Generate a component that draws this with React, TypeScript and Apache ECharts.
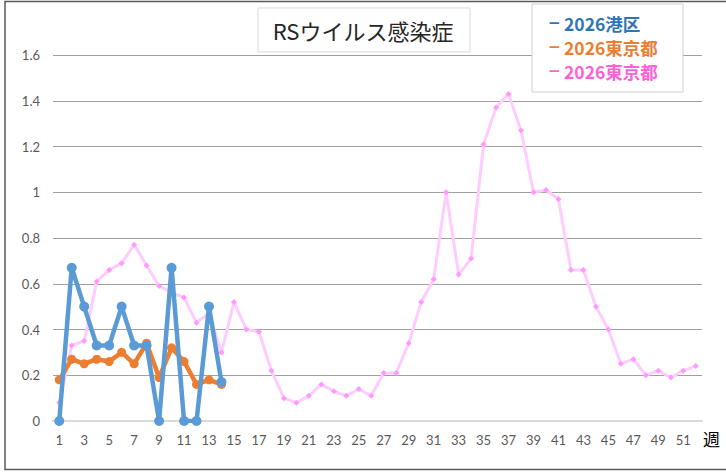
import React, { useEffect, useRef } from "react";
import * as echarts from "echarts";

const weeks: string[] = Array.from({ length: 52 }, (_, i) => String(i + 1));
const minatoValues: number[] = [0, 0.67, 0.5, 0.33, 0.33, 0.5, 0.33, 0.33, 0, 0.67, 0, 0, 0.5, 0.17];
const tokyoValues: number[] = [0.18, 0.27, 0.25, 0.27, 0.26, 0.3, 0.25, 0.34, 0.19, 0.32, 0.26, 0.16, 0.18, 0.16];
const tokyoPrevValues: number[] = [
  0.08, 0.33, 0.35, 0.61, 0.66, 0.69, 0.77, 0.68, 0.59, 0.56,
  0.54, 0.43, 0.47, 0.3, 0.52, 0.4, 0.39, 0.22, 0.1, 0.08,
  0.11, 0.16, 0.13, 0.11, 0.14, 0.11, 0.21, 0.21, 0.34, 0.52,
  0.62, 1.0, 0.64, 0.71, 1.21, 1.37, 1.43, 1.27, 1.0, 1.01,
  0.97, 0.66, 0.66, 0.5, 0.4, 0.25, 0.27, 0.2, 0.22, 0.19,
  0.22, 0.24,
];
const legendLabels: string[] = ["2026港区", "2026東京都", "2026東京都"];
const legendColors: string[] = ["#2e75b6", "#ed7d31", "#ff5fd7"];
const titleText = "RSウイルス感染症";
const axisUnit = "週";

const numFont = "Lato, 'Noto Sans', sans-serif";
const jpFont = "'Noto Sans CJK JP', sans-serif";

export default function App() {
  const ref = useRef<HTMLDivElement>(null);
  useEffect(() => {
    if (!ref.current) return;
    const chart = echarts.init(ref.current, undefined, { renderer: "svg" });
    const legendY = [23, 47, 71];
    const legendGraphics: any[] = [];
    legendLabels.forEach((label, i) => {
      legendGraphics.push({
        type: "text",
        x: 548,
        y: legendY[i],
        style: { text: "−", fontFamily: "'DejaVu Sans', sans-serif", fontSize: 15, fontWeight: "bold", lineHeight: 16, fill: legendColors[i], align: "left", verticalAlign: "middle" },
        z: 11,
      });
      legendGraphics.push({
        type: "text",
        x: 564,
        y: legendY[i],
        style: { text: label, fontFamily: jpFont, fontSize: 17.5, lineHeight: 19, fontWeight: "bold", fill: legendColors[i], align: "left", verticalAlign: "middle" },
        z: 11,
      });
    });
    chart.setOption({
      animation: false,
      backgroundColor: "#ffffff",
      grid: { left: 53, right: 24, top: 55, bottom: 51, containLabel: false },
      xAxis: {
        type: "category",
        data: weeks,
        boundaryGap: true,
        name: axisUnit,
        nameLocation: "end",
        nameGap: 1,
        nameTextStyle: { fontFamily: jpFont, fontSize: 17, color: "#000", verticalAlign: "top", padding: [9, 0, 0, 0] },
        axisTick: { show: false },
        axisLine: { lineStyle: { color: "#d9d9d9", width: 2 } },
        axisLabel: { interval: 1, color: "#595959", fontFamily: numFont, fontSize: 13, margin: 12 },
        splitLine: { show: false },
      },
      yAxis: {
        type: "value",
        min: 0,
        max: 1.6,
        interval: 0.2,
        axisLine: { show: false },
        axisTick: { show: false },
        axisLabel: { color: "#595959", fontFamily: numFont, fontSize: 13, margin: 13 },
        splitLine: { lineStyle: { color: "#a0a0a0", width: 1 } },
      },
      series: [
        {
          name: "2026東京都(前)",
          type: "line",
          data: tokyoPrevValues,
          symbol: "diamond",
          symbolSize: 6,
          showAllSymbol: true,
          lineStyle: { color: "#ffccff", width: 3 },
          itemStyle: { color: "#ff99ff" },
          z: 2,
        },
        {
          name: "2026東京都",
          type: "line",
          data: tokyoValues,
          symbol: "circle",
          symbolSize: 9,
          showAllSymbol: true,
          lineStyle: { color: "#ed7d31", width: 4.5 },
          itemStyle: { color: "#ed7d31" },
          z: 3,
        },
        {
          name: "2026港区",
          type: "line",
          data: minatoValues,
          symbol: "circle",
          symbolSize: 10,
          showAllSymbol: true,
          lineStyle: { color: "#5b9bd5", width: 4.5 },
          itemStyle: { color: "#5b9bd5" },
          z: 4,
        },
      ],
      graphic: [
        {
          type: "rect",
          shape: { x: 5, y: 1.5, width: 740, height: 468 },
          style: { fill: "none", stroke: "#595959", lineWidth: 1.5 },
          z: 1,
          silent: true,
        },
        {
          type: "rect",
          shape: { x: 258, y: 8, width: 212, height: 44 },
          style: { fill: "#ffffff", stroke: "#d9d9d9", lineWidth: 1 },
          z: 10,
        },
        {
          type: "text",
          x: 363,
          y: 30,
          style: { text: titleText, fontFamily: jpFont, fontSize: 22, fill: "#262626", align: "center", verticalAlign: "middle" },
          z: 11,
        },
        {
          type: "rect",
          shape: { x: 532, y: 4, width: 151, height: 88 },
          style: { fill: "#ffffff", stroke: "#d0d0d0", lineWidth: 1 },
          z: 10,
        },
        ...legendGraphics,
      ],
    });
    return () => chart.dispose();
  }, []);
  return <div ref={ref} style={{ width: 726, height: 472, position: "absolute", left: 0, top: 0 }} />;
}
